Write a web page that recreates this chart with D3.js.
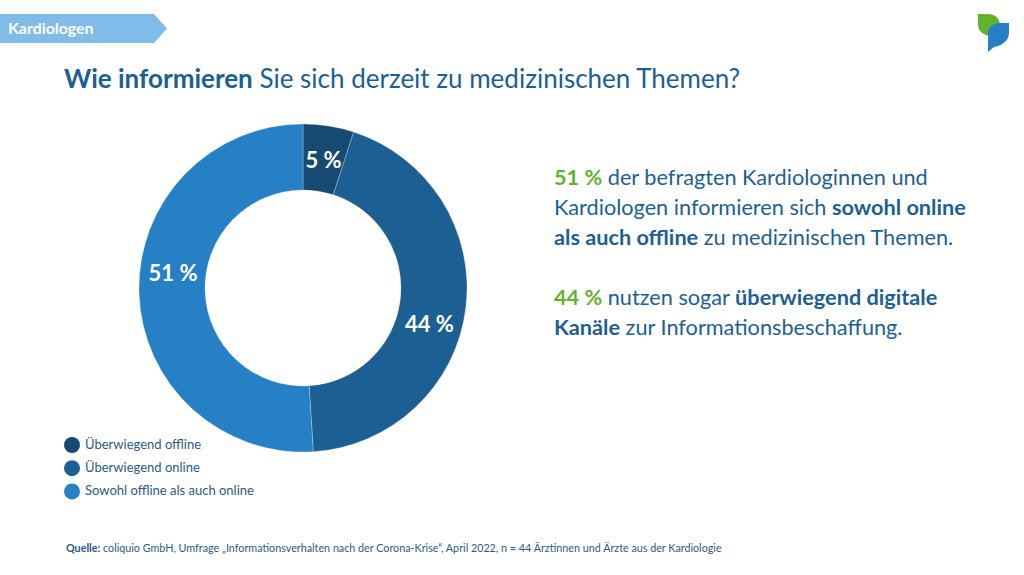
<!DOCTYPE html>
<html>
<head>
<meta charset="utf-8">
<script src="https://cdn.jsdelivr.net/npm/d3@7"></script>
<style>
  html, body { margin: 0; background: #fff; }
  text { font-family: Lato, "Noto Sans", sans-serif; }
</style>
</head>
<body>
<svg id="chart" width="1024" height="575"></svg>
<script>
const categories = ["Überwiegend offline", "Überwiegend online", "Sowohl offline als auch online"];
const values = [5, 44, 51];
const sliceColors = ["#174a72", "#1c6093", "#2580c6"];

const dark = "#1c6093";
const green = "#62b22f";

// Absatz rechts, jede Zeile eine Liste aus [Text, Stil]
const noteLines = [
  [["51 %", "g"], [" der befragten Kardiologinnen und", "n"]],
  [["Kardiologen informieren sich ", "n"], ["sowohl online", "b"]],
  [["als auch offline", "b"], [" zu medizinischen Themen.", "n"]],
  [["44 %", "g"], [" nutzen sogar ", "n"], ["überwiegend digitale", "b"]],
  [["Kanäle", "b"], [" zur Informationsbeschaffung.", "n"]]
];

const svg = d3.select("#chart");

// Tag oben links
svg.append("path")
  .attr("d", d3.line()([[0, 14], [154, 14], [167, 28.5], [154, 43], [0, 43]]) + "Z")
  .attr("fill", "#80bbe9");
svg.append("text")
  .attr("x", 8).attr("y", 34)
  .attr("fill", "#fff").attr("font-size", 15.9).attr("font-weight", 700)
  .text("Kardiologen");

// Logo
svg.append("path")
  .attr("d", "M978 14 H988 C996 14 1000 19 1000 26 L1000 35 C988 38 978 34 978 24 Z")
  .attr("fill", "#62b22f");
svg.append("path")
  .attr("d", "M1009 23 V33 C1009 42 1000 46 994 47 L988 52 V34 C988 27 993 23 1000 23 Z")
  .attr("fill", "#2580c6");

// Titel
const title = svg.append("text")
  .attr("x", 64).attr("y", 88)
  .attr("fill", dark).attr("font-size", 26);
title.append("tspan").attr("font-weight", 700).text("Wie informieren");
title.append("tspan").text(" Sie sich derzeit zu medizinischen Themen?");

// Donut
const cx = 303, cy = 288, rOuter = 164, rInner = 98;
const labelRadius = 131;
const labelNudge = [0, 8, 9]; // Labels sitzen nicht mittig im Segment (Grad)
const pie = d3.pie().sort(null).value(d => d);
const arc = d3.arc().innerRadius(rInner).outerRadius(rOuter);
const color = d3.scaleOrdinal().domain(categories).range(sliceColors);

const donut = svg.append("g").attr("transform", `translate(${cx},${cy})`);
const arcs = pie(values);

donut.selectAll("path")
  .data(arcs)
  .enter()
  .append("path")
  .attr("d", arc)
  .attr("fill", (d, i) => color(categories[i]))
  .attr("stroke", "#fff")
  .attr("stroke-width", 0.25);

donut.selectAll("text")
  .data(arcs)
  .enter()
  .append("text")
  .attr("transform", (d, i) => {
    const a = (d.startAngle + d.endAngle) / 2 + labelNudge[i] * Math.PI / 180;
    return `translate(${labelRadius * Math.sin(a)},${-labelRadius * Math.cos(a)})`;
  })
  .attr("text-anchor", "middle")
  .attr("dy", "0.42em")
  .attr("fill", "#fff")
  .attr("font-size", 22)
  .attr("font-weight", 700)
  .text(d => d.data + " %");

// Legende
const legend = svg.selectAll("g.legend")
  .data(categories)
  .enter()
  .append("g")
  .attr("class", "legend")
  .attr("transform", (d, i) => `translate(72, ${445 + i * 23.2})`);

legend.append("circle")
  .attr("r", 8)
  .attr("fill", d => color(d));
legend.append("text")
  .attr("x", 13).attr("y", 4)
  .attr("fill", "#2b5a85")
  .attr("font-size", 13)
  .text(d => d);

// Text rechts
const styleFill = s => s === "g" ? green : dark;
const note = svg.selectAll("text.note")
  .data(noteLines)
  .enter()
  .append("text")
  .attr("class", "note")
  .attr("x", 554)
  .attr("y", (d, i) => 184.5 + i * 30 + (i > 2 ? 30 : 0))
  .attr("font-size", 21.7);
note.selectAll("tspan")
  .data(d => d)
  .enter()
  .append("tspan")
  .attr("fill", d => styleFill(d[1]))
  .attr("font-weight", d => d[1] === "n" ? 400 : 700)
  .text(d => d[0]);

// Quelle
const source = svg.append("text")
  .attr("x", 66).attr("y", 552)
  .attr("fill", "#2b5a85").attr("font-size", 10.75);
source.append("tspan").attr("font-weight", 700).text("Quelle:");
source.append("tspan").text(" coliquio GmbH, Umfrage „Informationsverhalten nach der Corona-Krise“, April 2022, n = 44 Ärztinnen und Ärzte aus der Kardiologie");
</script>
</body>
</html>
